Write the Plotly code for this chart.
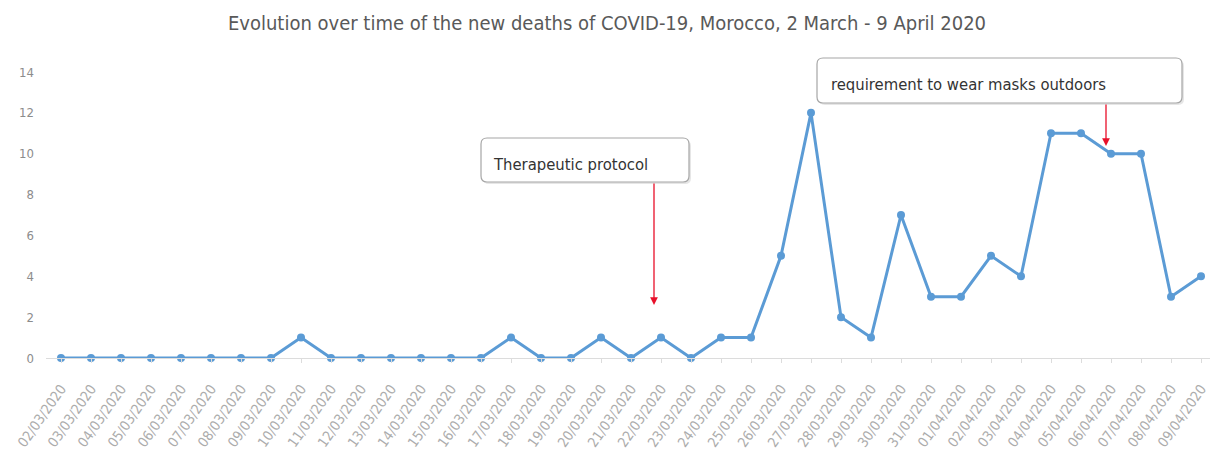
import plotly.graph_objects as go

# Daily new COVID-19 deaths, Morocco
dates = [
    "02/03/2020", "03/03/2020", "04/03/2020", "05/03/2020", "06/03/2020",
    "07/03/2020", "08/03/2020", "09/03/2020", "10/03/2020", "11/03/2020",
    "12/03/2020", "13/03/2020", "14/03/2020", "15/03/2020", "16/03/2020",
    "17/03/2020", "18/03/2020", "19/03/2020", "20/03/2020", "21/03/2020",
    "22/03/2020", "23/03/2020", "24/03/2020", "25/03/2020", "26/03/2020",
    "27/03/2020", "28/03/2020", "29/03/2020", "30/03/2020", "31/03/2020",
    "01/04/2020", "02/04/2020", "03/04/2020", "04/04/2020", "05/04/2020",
    "06/04/2020", "07/04/2020", "08/04/2020", "09/04/2020",
]
new_deaths = [
    0, 0, 0, 0, 0, 0, 0, 0, 1, 0,
    0, 0, 0, 0, 0, 1, 0, 0, 1, 0,
    1, 0, 1, 1, 5, 12, 2, 1, 7, 3,
    3, 5, 4, 11, 11, 10, 10, 3, 4,
]
y_ticks = [0, 2, 4, 6, 8, 10, 12, 14]

W, H = 1214, 461
ML, MR, MT, MB = 46, 4, 72, 103
PW, PH = W - ML - MR, H - MT - MB
COND = "DejaVu Sans Condensed, DejaVu Sans, sans-serif"


def px(x):
    return (x - ML) / PW


def py(y):
    return (H - MB - y) / PH


fig = go.Figure()
fig.add_trace(go.Scatter(
    x=list(range(len(dates))), y=new_deaths, mode="lines+markers",
    line=dict(color="#5B9BD5", width=3),
    marker=dict(color="#5B9BD5", size=8),
    cliponaxis=False, showlegend=False,
))

shapes = []
annotations = []


def callout(x0, y0, x1, y1, text, tx):
    r = 6
    path = (
        f"M {x0 + r},{y0} L {x1 - r},{y0} Q {x1},{y0} {x1},{y0 + r} "
        f"L {x1},{y1 - r} Q {x1},{y1} {x1 - r},{y1} L {x0 + r},{y1} "
        f"Q {x0},{y1} {x0},{y1 - r} L {x0},{y0 + r} Q {x0},{y0} {x0 + r},{y0} Z"
    )

    def conv(p, dx=0, dy=0):
        out = []
        for tok in p.split(" "):
            if "," in tok:
                a, b = tok.split(",")
                out.append(f"{px(float(a) + dx):.5f},{py(float(b) + dy):.5f}")
            else:
                out.append(tok)
        return " ".join(out)

    shapes.append(dict(type="path", xref="paper", yref="paper",
                       path=conv(path, 2, 2), fillcolor="#e6e6e6",
                       line=dict(width=0), layer="above"))
    shapes.append(dict(type="path", xref="paper", yref="paper",
                       path=conv(path), fillcolor="white",
                       line=dict(color="#a6a6a6", width=1.2), layer="above"))
    annotations.append(dict(
        x=px(tx), y=py((y0 + y1) / 2 + 4), xref="paper", yref="paper",
        text=text, showarrow=False, xanchor="left", yanchor="middle",
        font=dict(family=COND, size=16.5, color="#333333"),
    ))


callout(481, 138, 689, 182, "Therapeutic protocol", 491)
callout(817, 58, 1182, 103, "requirement to wear masks outdoors", 829)

# red arrows pointing at the dates of the measures
for ax_x, y_top, y_tip in [(654, 182, 305), (1106, 103, 146)]:
    annotations.append(dict(
        x=px(ax_x), y=py(y_tip), xref="paper", yref="paper",
        ax=0, ay=-(y_tip - y_top), text="", showarrow=True,
        arrowhead=2, arrowsize=1.2, arrowwidth=1.3, arrowcolor="#e8102a",
    ))

fig.update_layout(
    width=W, height=H,
    margin=dict(l=ML, r=MR, t=MT, b=MB, autoexpand=False),
    paper_bgcolor="white", plot_bgcolor="white",
    title=dict(
        text="Evolution over time of the new deaths of COVID-19, Morocco, 2 March - 9 April 2020",
        x=0.5, xanchor="center", y=1 - 23 / H, yanchor="middle",
        font=dict(family=COND, size=20, color="#595959"),
    ),
    xaxis=dict(
        range=[-0.5, 38.3], tickmode="array",
        tickvals=list(range(len(dates))), ticktext=dates,
        tickangle=-55, showgrid=False, zeroline=False,
        showline=True, linecolor="#dcdcdc", linewidth=1,
        ticks="outside", ticklen=4, tickcolor="#dcdcdc",
        tickfont=dict(family=COND, size=14, color="#acacac"),
        ticklabelstandoff=12,
    ),
    yaxis=dict(
        range=[0, 14], tickvals=y_ticks, showgrid=False, zeroline=False,
        showline=False, ticks="",
        tickfont=dict(family=COND, size=13, color="#8c8c8c"),
        ticklabelstandoff=11,
    ),
    shapes=shapes,
    annotations=annotations,
)

fig.write_html("out.html")
